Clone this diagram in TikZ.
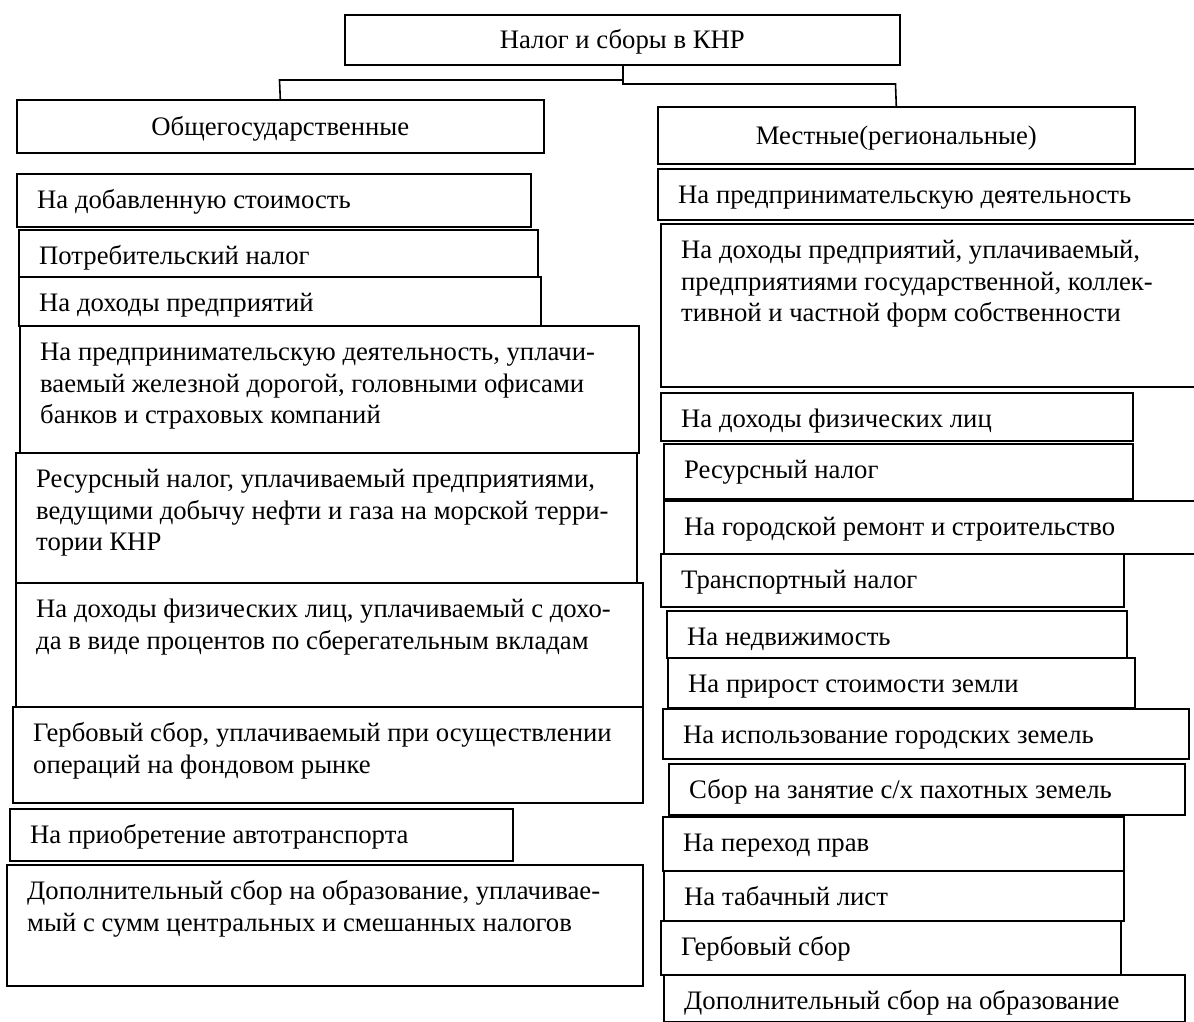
\documentclass[tikz,border=0pt]{standalone}
\usepackage{fontspec}
\setmainfont{Liberation Serif}
\newcommand\fsz{\fontsize{26.7}{31.7}\selectfont}
\tikzset{
  box/.style={draw, line width=1.6pt, inner sep=0pt, anchor=north west},
  hdr/.style={draw, line width=1.6pt, inner sep=0pt, anchor=north west, font=\fsz, text height=22pt, text depth=4pt},
  txt/.style={anchor=north west, inner sep=0pt, align=left, font=\fsz},
  conn/.style={line width=1.6pt}
}
% name, x, y, width, height, text
\newcommand\tbox[6]{%
  \node[box, minimum width=#4pt, minimum height=#5pt] (#1) at (#2,#3) {};
  \node[txt] (#1t) at ([xshift=21pt,yshift=-13pt]#1.north west) {\strut #6};
}
\begin{document}
\begin{tikzpicture}[x=1pt,y=-1pt]
\useasboundingbox (0,0) rectangle (1194,1021);

% headers
\node[hdr, minimum width=555pt, minimum height=50pt] (T) at (344,14) {Налог и сборы в КНР};
\node[hdr, minimum width=527pt, minimum height=53pt] (G) at (16,99) {Общегосударственные};
\node[hdr, minimum width=477pt, minimum height=57pt] (M) at (657,106) {Местные(региональные)};

\coordinate (tx) at (623,0);
\coordinate (tl) at (279.5,80);
\coordinate (tr) at (895.5,84);
\draw[conn] (T.south -| tx) |- (tl) -- (G.north);
\draw[conn] (T.south -| tx) |- (tr) -- (M.north);

% left column
\tbox{L1}{16}{173}{514}{53}{На добавленную стоимость}
\tbox{L2}{18}{229}{519}{47}{Потребительский налог}
\tbox{L3}{18}{276}{522}{49}{На доходы предприятий}
\tbox{L4}{19}{325}{619}{127}{На предпринимательскую деятельность, уплачи-\\ваемый железной дорогой, головными офисами\\банков и страховых компаний}
\tbox{L5}{15}{452}{621}{130}{Ресурсный налог, уплачиваемый предприятиями,\\ведущими добычу нефти и газа на морской терри-\\тории КНР}
\tbox{L6}{15}{582}{627}{124}{На доходы физических лиц, уплачиваемый с дохо-\\да в виде процентов по сберегательным вкладам}
\tbox{L7}{12}{706}{630}{96}{Гербовый сбор, уплачиваемый при осуществлении\\операций на фондовом рынке}
\tbox{L8}{9}{808}{503}{52}{На приобретение автотранспорта}
\tbox{L9}{6}{864}{636}{121}{Дополнительный сбор на образование, уплачивае-\\мый с сумм центральных и смешанных налогов}

% right column
\tbox{R1}{657}{168}{537}{51}{На предпринимательскую деятельность}
\tbox{R2}{660}{223}{534}{163}{На доходы предприятий, уплачиваемый,\\предприятиями государственной, коллек-\\тивной и частной форм собственности}
\tbox{R3}{660}{392}{472}{48}{На доходы физических лиц}
\tbox{R4}{663}{443}{469}{55}{Ресурсный налог}
\tbox{R5}{663}{500}{531}{53}{На городской ремонт и строительство}
\tbox{R6}{660}{553}{463}{53}{Транспортный налог}
\tbox{R7}{666}{610}{460}{47}{На недвижимость}
\tbox{R8}{667}{657}{467}{50}{На прирост стоимости земли}
\tbox{R9}{662}{708}{526}{50}{На использование городских земель}
\tbox{R10}{668}{763}{516}{51}{Сбор на занятие с/х пахотных земель}
\tbox{R11}{662}{816}{461}{54}{На переход прав}
\tbox{R12}{663}{870}{460}{50}{На табачный лист}
\tbox{R13}{660}{920}{460}{54}{Гербовый сбор}
\tbox{R14}{663}{974}{521}{47}{Дополнительный сбор на образование}
\end{tikzpicture}
\end{document}
